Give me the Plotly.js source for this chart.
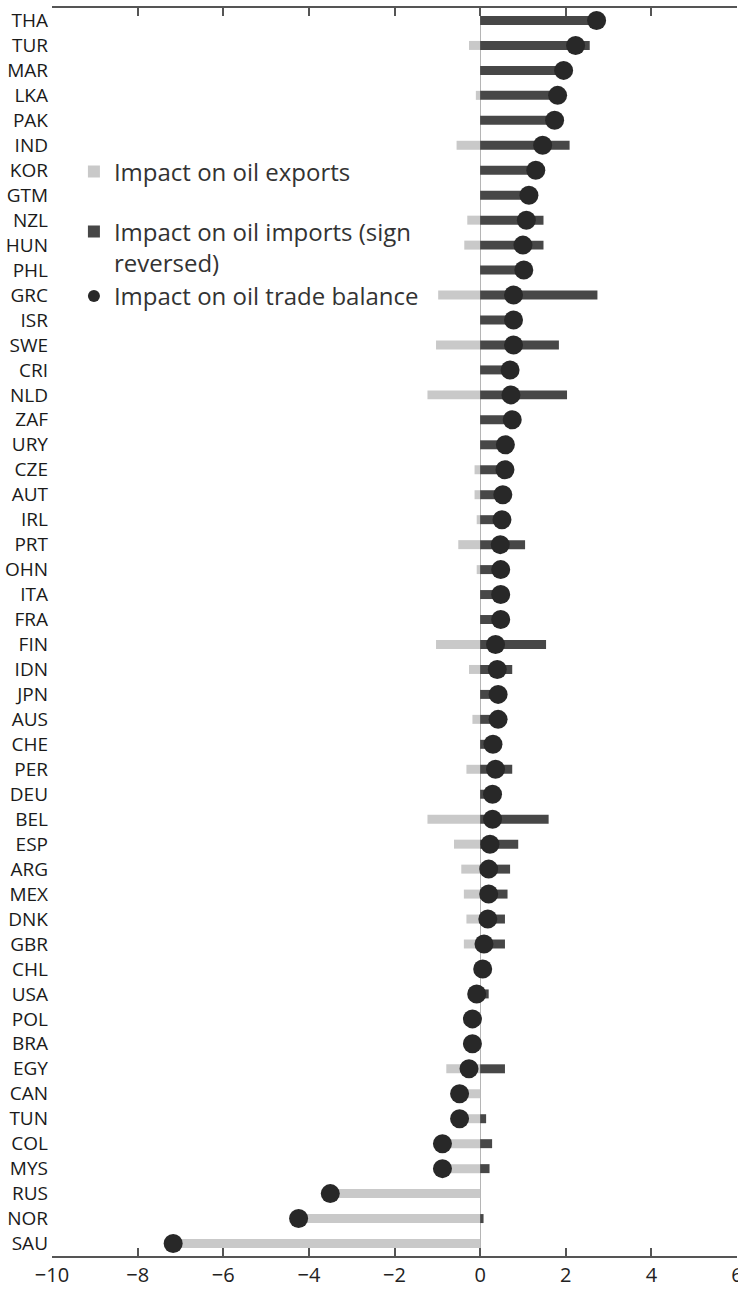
<!DOCTYPE html>
<html>
<head>
<meta charset="utf-8">
<script src="https://cdn.plot.ly/plotly-3.0.1.min.js"></script>
<style>html,body{margin:0;padding:0;background:#fff;}#chart{width:738px;height:1292px;}</style>
</head>
<body>
<div id="chart"></div>
<script>
const countries = ["THA","TUR","MAR","LKA","PAK","IND","KOR","GTM","NZL","HUN","PHL","GRC","ISR","SWE","CRI","NLD","ZAF","URY","CZE","AUT","IRL","PRT","OHN","ITA","FRA","FIN","IDN","JPN","AUS","CHE","PER","DEU","BEL","ESP","ARG","MEX","DNK","GBR","CHL","USA","POL","BRA","EGY","CAN","TUN","COL","MYS","RUS","NOR","SAU"];
const oilExports = [0,-0.26,0,-0.1,0,-0.55,0,0,-0.3,-0.37,0,-0.98,0,-1.03,0,-1.23,0,0,-0.13,-0.13,-0.08,-0.51,-0.08,0,0,-1.03,-0.26,0,-0.18,0,-0.32,0,-1.23,-0.61,-0.44,-0.38,-0.32,-0.38,0,-0.28,-0.18,-0.2,-0.79,-0.5,-0.62,-1.05,-1.05,-3.5,-4.3,-7.2];
const oilImports = [2.72,2.56,1.95,1.9,1.78,2.09,1.35,1.16,1.48,1.48,1.05,2.74,0.78,1.84,0.7,2.03,0.75,0.6,0.7,0.62,0.58,1.05,0.55,0.48,0.48,1.54,0.75,0.42,0.55,0.3,0.75,0.29,1.6,0.89,0.7,0.64,0.58,0.58,0.05,0.2,0,0.02,0.58,0,0.14,0.28,0.22,0,0.08,0];
const tradeBalance = [2.72,2.23,1.95,1.81,1.74,1.46,1.3,1.14,1.08,1.0,1.02,0.78,0.78,0.78,0.7,0.72,0.75,0.59,0.58,0.53,0.51,0.47,0.48,0.48,0.48,0.36,0.4,0.42,0.42,0.3,0.36,0.29,0.29,0.23,0.2,0.2,0.18,0.09,0.06,-0.08,-0.18,-0.18,-0.26,-0.48,-0.48,-0.88,-0.88,-3.5,-4.24,-7.17];
const xTicks = [-10,-8,-6,-4,-2,0,2,4,6];

const FONT = "Open Sans, Noto Sans, sans-serif";
const traces = [
  {type:"bar", orientation:"h", name:"Impact on oil exports", y:countries, x:oilExports,
   width:0.36, marker:{color:"#c9c9c9", line:{width:0}}, legend:"legend", hoverinfo:"x+y"},
  {type:"bar", orientation:"h", name:"Impact on oil imports (sign<br>reversed)", y:countries, x:oilImports,
   width:0.36, marker:{color:"#474747", line:{width:0}}, legend:"legend2", hoverinfo:"x+y"},
  {type:"scatter", mode:"markers", name:"Impact on oil trade balance", y:countries, x:tradeBalance,
   marker:{color:"#282828", size:19, symbol:"circle"}, legend:"legend3", hoverinfo:"x+y"}
];
const legFont = {family:FONT, size:24, color:"#333"};
const legBase = {font:legFont, bgcolor:"rgba(0,0,0,0)", borderwidth:0, xanchor:"left", yanchor:"middle", valign:"top", itemsizing:"constant"};
const layout = {
  width:738, height:1292,
  margin:{l:52, r:1, t:8, b:36},
  paper_bgcolor:"#fff", plot_bgcolor:"#fff",
  barmode:"overlay",
  showlegend:true,
  legend:Object.assign({}, legBase, {x:0.032, y:0.8686}),
  legend2:Object.assign({}, legBase, {x:0.032, y:0.8081}),
  legend3:Object.assign({}, legBase, {x:0.032, y:0.7690}),
  xaxis:{range:[-10,6], tickvals:xTicks, ticks:"inside", ticklen:8, tickwidth:2, tickcolor:"#555",
         showline:true, linecolor:"#555", linewidth:2, mirror:"ticks", showgrid:false,
         zeroline:true, zerolinecolor:"#b5b5b5", zerolinewidth:1, ticklabeloverflow:"allow",
         tickfont:{family:FONT, size:20, color:"#222"}},
  yaxis:{type:"category", categoryarray:countries, categoryorder:"array", range:[49.5,-0.5],
         showgrid:false, zeroline:false, showline:false, ticks:"",
         tickfont:{family:FONT, size:19, color:"#1a1a1a"}, ticklabelstandoff:3}
};
Plotly.newPlot("chart", traces, layout, {displayModeBar:false, staticPlot:true});
</script>
</body>
</html>
